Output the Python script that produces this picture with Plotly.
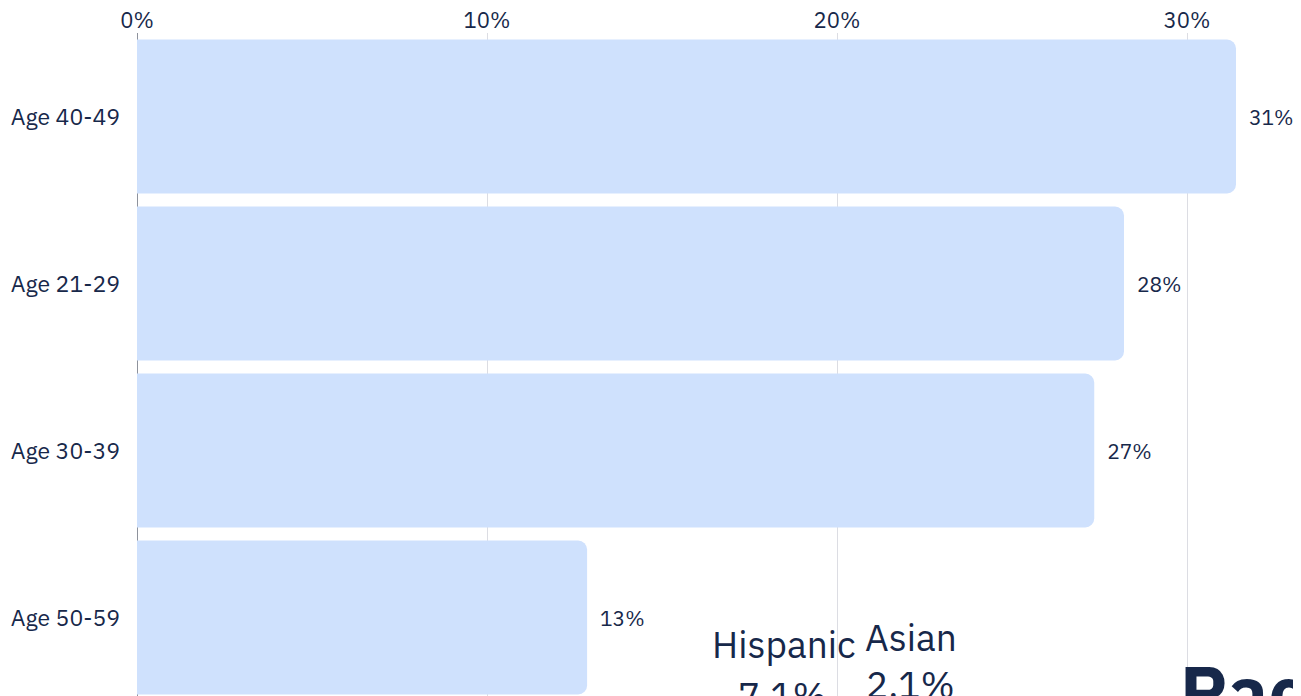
import plotly.graph_objects as go

categories = ["Age 40-49", "Age 21-29", "Age 30-39", "Age 50-59"]
values = [31.4, 28.2, 27.35, 12.86]
tick_vals = [0, 10, 20, 30]
tick_text = ["0%", "10%", "20%", "30%"]

overlay_names = ["Hispanic", "Asian"]
overlay_values = ["7.1%", "2.1%"]
overlay_title = "Race"

TEXT = "#17284a"
BAR = "#cfe1fd"
FONT = "IBM Plex Sans, Inter, Noto Sans, sans-serif"

OFF = 8  # page body margin
W, H = 1301 - OFF, 696 - OFF
ML, MT = 137 - OFF, 33 - OFF
PW, PH = W - ML, H - MT

def px(x):
    return (x - OFF - ML) / PW

def py(y):
    return (696 - y) / PH

fig = go.Figure()
fig.add_trace(go.Bar(
    y=categories,
    x=values,
    orientation="h",
    marker=dict(color=BAR, cornerradius=9, line=dict(width=0)),
    text=["  %d%%" % round(v) for v in values],
    textposition="outside",
    textfont=dict(family=FONT, size=21, color=TEXT),
    cliponaxis=False,
    hoverinfo="skip",
))

annotations = []
name_x = [784, 911]
name_top = [618, 611]
val_x = [782, 910]
val_top = [669, 658]
for name, val, nx, nt, vx, vt in zip(overlay_names, overlay_values, name_x, name_top, val_x, val_top):
    annotations.append(dict(
        text=name, x=px(nx), y=py(nt), xref="paper", yref="paper",
        xanchor="center", yanchor="top", showarrow=False,
        font=dict(family=FONT, size=37, color=TEXT),
    ))
    annotations.append(dict(
        text=val, x=px(vx), y=py(vt), xref="paper", yref="paper",
        xanchor="center", yanchor="top", showarrow=False,
        font=dict(family=FONT, size=37, color=TEXT),
    ))
annotations.append(dict(
    text="<b>" + overlay_title + "</b>", x=px(1178), y=py(642), xref="paper", yref="paper",
    xanchor="left", yanchor="top", showarrow=False,
    font=dict(family=FONT, size=72, color=TEXT),
))

fig.update_layout(
    width=W, height=H,
    margin=dict(l=ML, r=0, t=MT, b=0, pad=0, autoexpand=False),
    paper_bgcolor="white", plot_bgcolor="white",
    bargap=13 / 167,
    showlegend=False,
    font=dict(family=FONT, color=TEXT),
    annotations=annotations,
    xaxis=dict(
        side="top", range=[0, PW / 35.0], automargin=False,
        tickvals=tick_vals, ticktext=tick_text,
        tickfont=dict(family=FONT, size=22, color=TEXT),
        showgrid=True, gridcolor="#dcdde3", gridwidth=1,
        zeroline=True, zerolinecolor="#8e929c", zerolinewidth=1,
        showline=False, ticks="",
    ),
    yaxis=dict(
        categoryorder="array", categoryarray=categories,
        autorange=False, range=[3.5 + (PH / 167 - 4), -0.5], automargin=False,
        tickfont=dict(family=FONT, size=23, color=TEXT),
        ticklabelstandoff=16,
        showgrid=False, zeroline=False, showline=False, ticks="",
    ),
)

fig.write_html("out.html")
